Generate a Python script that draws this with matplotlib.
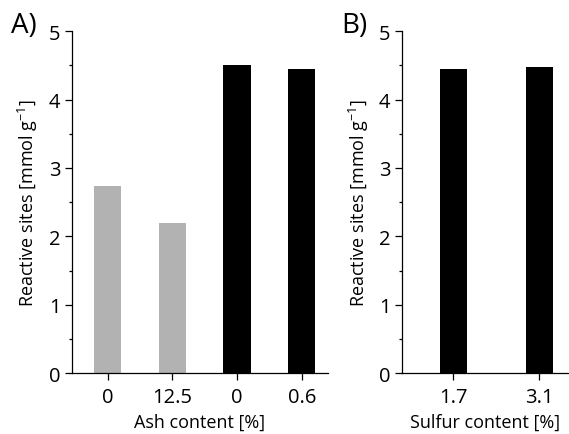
import matplotlib
matplotlib.use('Agg')
import matplotlib.pyplot as plt
from matplotlib.ticker import MultipleLocator

plt.rcParams['font.family'] = ['Open Sans', 'DejaVu Sans']

# Panel A: ash content
ash_labels = ['0', '12.5', '0', '0.6']
ash_values = [2.73, 2.19, 4.50, 4.44]
ash_colors = ['#b2b2b2', '#b2b2b2', '#000000', '#000000']

# Panel B: sulfur content
sulfur_labels = ['1.7', '3.1']
sulfur_values = [4.44, 4.48]

fig = plt.figure(figsize=(5.69, 4.35), dpi=100)
ax1 = fig.add_axes([0.1257, 0.140, 0.450, 0.786])
ax2 = fig.add_axes([0.706, 0.140, 0.294, 0.786])


def style_axis(ax, xlabel):
    for side in ['top', 'right']:
        ax.spines[side].set_visible(False)
    for side in ['left', 'bottom']:
        ax.spines[side].set_linewidth(0.9)
    ax.set_ylim(0, 5)
    ax.yaxis.set_major_locator(MultipleLocator(1))
    ax.yaxis.set_minor_locator(MultipleLocator(0.5))
    ax.tick_params(axis='both', which='major', direction='out', length=5,
                   width=0.9, labelsize=14.5)
    ax.tick_params(axis='y', which='minor', direction='out', length=2.5, width=0.9)
    ax.tick_params(axis='y', pad=3)
    ax.tick_params(axis='x', pad=5)
    ax.set_ylabel('Reactive sites [mmol g$^{\\mathregular{-1}}$]', fontsize=13, labelpad=6)
    ax.set_xlabel(xlabel, fontsize=13, labelpad=4)


x1 = range(len(ash_values))
ax1.bar(x1, ash_values, width=0.42, color=ash_colors)
ax1.set_xticks(list(x1))
ax1.set_xticklabels(ash_labels)
ax1.set_xlim(-0.56, 3.40)
style_axis(ax1, 'Ash content [%]')

x2 = range(len(sulfur_values))
ax2.bar(x2, sulfur_values, width=0.32, color='#000000')
ax2.set_xticks(list(x2))
ax2.set_xticklabels(sulfur_labels)
ax2.set_xlim(-0.60, 1.345)
style_axis(ax2, 'Sulfur content [%]')

fig.text(0.020, 0.925, 'A)', fontsize=20, va='baseline')
fig.text(0.600, 0.925, 'B)', fontsize=20, va='baseline')

fig.savefig('out.png', dpi=100)
